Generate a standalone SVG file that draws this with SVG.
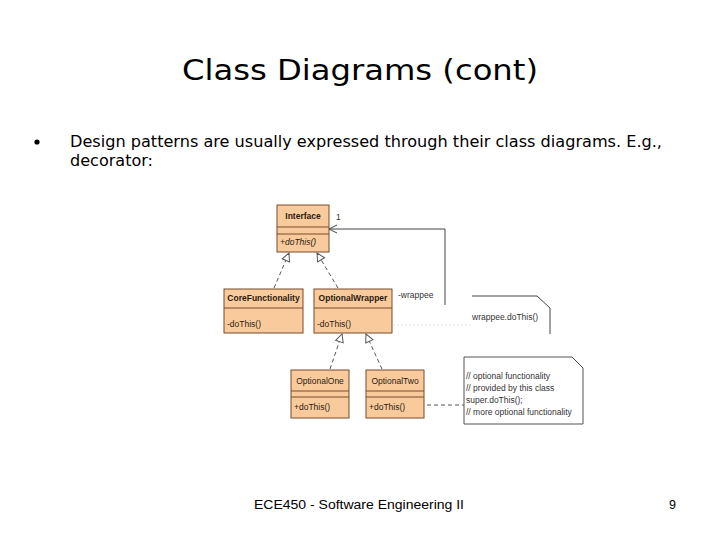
<svg xmlns="http://www.w3.org/2000/svg" width="720" height="540" viewBox="0 0 720 540">
<defs>
<style>
.box{fill:#F9CB9C;stroke:#7A4A2A;stroke-width:1}
.div{stroke:#7A4A2A;stroke-width:1}
.nm{font-family:"Liberation Sans",Arial,sans-serif;font-size:8.5px;font-weight:bold;fill:#2a1a10;text-anchor:middle}
.op{font-family:"Liberation Sans",Arial,sans-serif;font-size:8.5px;fill:#2a1a10}
.sm{font-family:"Liberation Sans",Arial,sans-serif;font-size:8.5px;fill:#333}
.ln{fill:none;stroke:#444;stroke-width:1}
.dash{fill:none;stroke:#555;stroke-width:1;stroke-dasharray:4,3}
.note{fill:#fff;stroke:#555;stroke-width:1}
</style>
<marker id="tri" markerWidth="10" markerHeight="10" refX="9" refY="5" orient="auto" markerUnits="userSpaceOnUse">
<path d="M1,1 L9,5 L1,9 Z" fill="#fff" stroke="#555" stroke-width="1"/>
</marker>
<marker id="open" markerWidth="10" markerHeight="10" refX="9" refY="5" orient="auto" markerUnits="userSpaceOnUse">
<path d="M1,1 L9,5 L1,9" fill="none" stroke="#444" stroke-width="1"/>
</marker>
</defs>
<rect width="720" height="540" fill="#fff"/>
<text x="360" y="80" font-family="DejaVu Sans,Verdana,sans-serif" font-size="28" text-anchor="middle" textLength="356" lengthAdjust="spacingAndGlyphs" fill="#000">Class Diagrams (cont)</text>
<circle cx="37" cy="142" r="2.6" fill="#000"/>
<text x="70" y="147" font-family="DejaVu Sans,Verdana,sans-serif" font-size="15" fill="#000" textLength="592" lengthAdjust="spacingAndGlyphs">Design patterns are usually expressed through their class diagrams. E.g.,</text>
<text x="70" y="166" font-family="DejaVu Sans,Verdana,sans-serif" font-size="15" fill="#000" textLength="83" lengthAdjust="spacingAndGlyphs">decorator:</text>
<text x="254" y="509" font-family="Liberation Sans,Arial,sans-serif" font-size="12.5" fill="#000" textLength="210" lengthAdjust="spacingAndGlyphs">ECE450 - Software Engineering II</text>
<text x="676" y="509" font-family="Liberation Sans,Arial,sans-serif" font-size="12.5" fill="#000" text-anchor="end">9</text>

<g id="connectors">
<line class="dash" x1="274" y1="288" x2="289" y2="253" marker-end="url(#tri)"/>
<line class="dash" x1="338" y1="288" x2="317" y2="253" marker-end="url(#tri)"/>
<line class="dash" x1="330" y1="369" x2="342" y2="334" marker-end="url(#tri)"/>
<line class="dash" x1="382" y1="369" x2="366" y2="334" marker-end="url(#tri)"/>
<polyline class="ln" points="445,305 445,229 329,229" marker-end="url(#open)"/>
<text class="sm" x="336" y="220">1</text>
<text class="sm" x="398" y="298">-wrappee</text>
<line x1="393" y1="325" x2="470" y2="325" stroke="#e2e2e2" stroke-width="1" stroke-dasharray="2,2"/>
<line class="dash" x1="427" y1="405" x2="464" y2="405" stroke-dasharray="7,4"/>
</g>

<g id="interface">
<rect class="box" x="277" y="205" width="52" height="47"/>
<line class="div" x1="277" y1="227" x2="329" y2="227"/>
<line class="div" x1="277" y1="234" x2="329" y2="234"/>
<text class="nm" x="303" y="219">Interface</text>
<text class="op" x="280" y="245" font-style="italic">+doThis()</text>
</g>

<g id="corefunctionality">
<rect class="box" x="224" y="289" width="79" height="44"/>
<line class="div" x1="224" y1="308" x2="303" y2="308"/>
<text class="nm" x="263.5" y="301">CoreFunctionality</text>
<text class="op" x="227" y="327">-doThis()</text>
</g>

<g id="optionalwrapper">
<rect class="box" x="314" y="289" width="78" height="44"/>
<line class="div" x1="314" y1="308" x2="392" y2="308"/>
<text class="nm" x="353" y="301">OptionalWrapper</text>
<text class="op" x="317" y="327">-doThis()</text>
</g>

<g id="optionalone">
<rect class="box" x="291" y="370" width="58" height="48"/>
<line class="div" x1="291" y1="391" x2="349" y2="391"/>
<line class="div" x1="291" y1="397" x2="349" y2="397"/>
<text class="op" x="320" y="384" text-anchor="middle">OptionalOne</text>
<text class="op" x="294" y="410">+doThis()</text>
</g>

<g id="optionaltwo">
<rect class="box" x="366" y="370" width="58" height="48"/>
<line class="div" x1="366" y1="391" x2="424" y2="391"/>
<line class="div" x1="366" y1="397" x2="424" y2="397"/>
<text class="op" x="395" y="384" text-anchor="middle">OptionalTwo</text>
<text class="op" x="369" y="410">+doThis()</text>
</g>

<g id="note-wrappee">
<polyline class="ln" points="472,296 537,296 550,308 550,334" stroke="#555"/>
<text class="sm" x="472" y="320">wrappee.doThis()</text>
</g>

<g id="note-optional">
<path class="note" d="M464,357 L572,357 L583,368 L583,424 L464,424 Z"/>
<path class="ln" d="M572,357 L583,368" stroke="#555"/>
<text class="sm" x="466" y="379">// optional functionality</text>
<text class="sm" x="466" y="391">//   provided by this class</text>
<text class="sm" x="466" y="403">super.doThis();</text>
<text class="sm" x="466" y="415">// more optional functionality</text>
</g>
</svg>
